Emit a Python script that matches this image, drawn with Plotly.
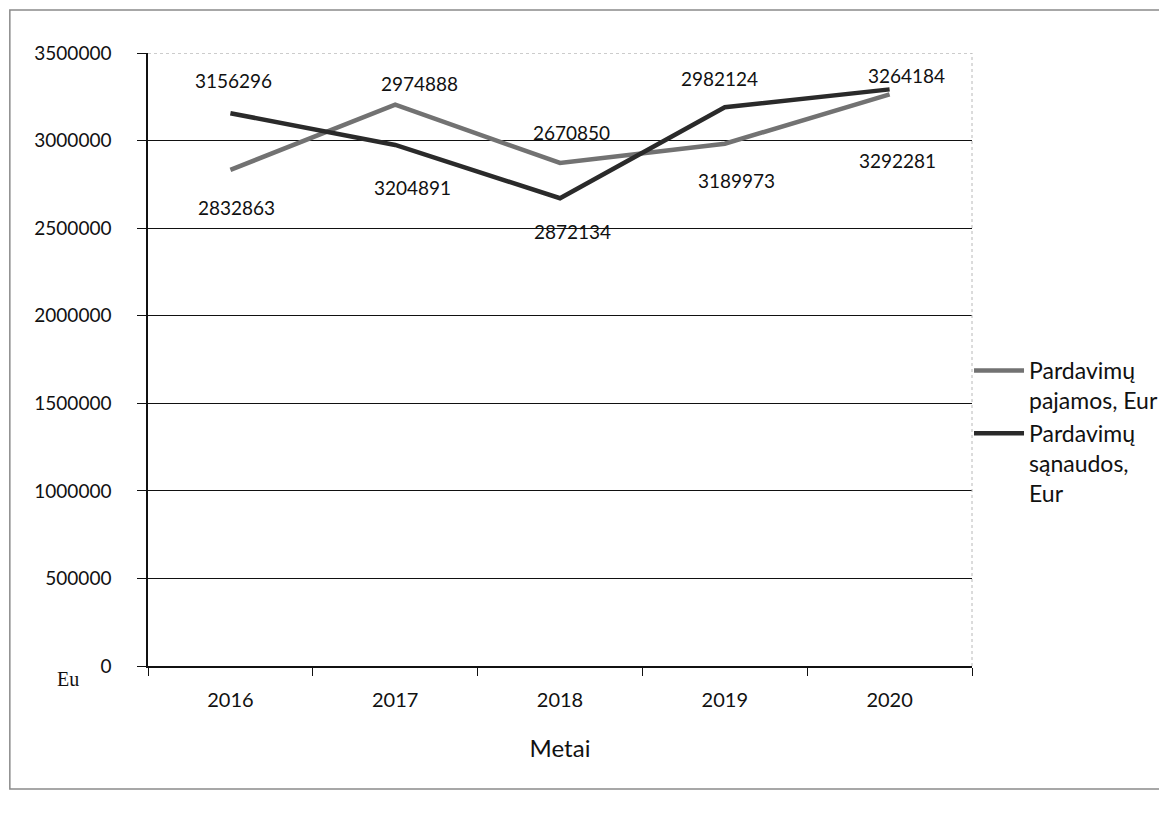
import plotly.graph_objects as go

# ---- data ----
years = ["2016", "2017", "2018", "2019", "2020"]
pajamos = [2832863, 3204891, 2872134, 2982124, 3264184]   # Pardavimų pajamos, Eur
sanaudos = [3156296, 2974888, 2670850, 3189973, 3292281]  # Pardavimų sąnaudos, Eur
labels_upper = [3156296, 2974888, 2670850, 2982124, 3264184]
labels_lower = [2832863, 3204891, 2872134, 3189973, 3292281]
y_ticks = [0, 500000, 1000000, 1500000, 2000000, 2500000, 3000000, 3500000]

# ---- label placement (pixel offsets from the value point) ----
upper_dx = [3, 24, 11, -5, 17]
upper_dy = [33, 61, 66, 65, 19]
lower_dx = [6, 17, 12, 12, 8]
lower_dy = [-38, -83, -69, -73, -71]

FONT = "Lato"
W, H = 1167, 815
OFF = 8  # page body margin
# plot area in screen pixels: left 148, right 977, top 53, bottom 666
ML, MT = 148 - OFF, 53 - OFF
MR = W - (977 - OFF)
MB = H - (666 - OFF)
PW, PH = W - ML - MR, H - MT - MB


def px_x(v):
    return (v - OFF - ML) / PW


def px_y(v):
    return (H - MB - (v - OFF)) / PH


fig = go.Figure()
fig.add_trace(go.Scatter(
    x=years, y=pajamos, mode="lines", name="Pardavimų<br>pajamos, Eur",
    line=dict(color="#727272", width=4.5), cliponaxis=False))
fig.add_trace(go.Scatter(
    x=years, y=sanaudos, mode="lines", name="Pardavimų<br>sąnaudos,<br>Eur",
    line=dict(color="#2a2a2a", width=4.5), cliponaxis=False))

annotations = []
for i, yr in enumerate(years):
    annotations.append(dict(x=i, y=labels_upper[i], xref="x", yref="y",
                            text=str(labels_upper[i]),
                            showarrow=False, xshift=upper_dx[i], yshift=upper_dy[i],
                            font=dict(family=FONT, size=19, color="#111")))
    annotations.append(dict(x=i, y=labels_lower[i], xref="x", yref="y",
                            text=str(labels_lower[i]),
                            showarrow=False, xshift=lower_dx[i], yshift=lower_dy[i],
                            font=dict(family=FONT, size=19, color="#111")))

annotations.append(dict(xref="paper", yref="paper", x=px_x(68), y=px_y(679),
                        xanchor="center", yanchor="middle",
                        text="Eu", showarrow=False,
                        font=dict(family="Liberation Serif", size=20, color="#111")))

shapes = [
    # outer chart border
    dict(type="rect", xref="paper", yref="paper", x0=px_x(9), x1=px_x(1190), y0=px_y(789), y1=px_y(10),
         line=dict(color="#8a8a8a", width=1.5), layer="below"),
    # faint top gridline
    dict(type="line", xref="paper", yref="y", x0=0, x1=1, y0=3500000, y1=3500000,
         line=dict(color="white", width=2)),
    dict(type="line", xref="paper", yref="y", x0=0, x1=1, y0=3500000, y1=3500000,
         line=dict(color="#9a9a9a", width=1, dash="dot")),
    # faint right plot edge
    dict(type="line", xref="paper", yref="y", x0=1, x1=1, y0=0, y1=3500000,
         line=dict(color="#b8b8b8", width=1, dash="dot")),
]

fig.update_layout(
    width=W, height=H, autosize=False,
    margin=dict(l=ML, r=MR, t=MT, b=MB),
    paper_bgcolor="white", plot_bgcolor="white",
    font=dict(family=FONT, size=19, color="#111"),
    showlegend=True,
    legend=dict(x=px_x(974), y=px_y(349), xanchor="left", yanchor="top",
                font=dict(family=FONT, size=23, color="#111"),
                valign="top", itemwidth=50, tracegroupgap=0,
                bgcolor="rgba(0,0,0,0)"),
    annotations=annotations,
    shapes=shapes,
    xaxis=dict(type="category", range=[-0.5, 4.5], showgrid=False,
               showline=True, linecolor="#111", linewidth=1.5,
               ticks="outside", tickson="boundaries", ticklen=8, tickcolor="#111",
               ticklabelstandoff=15, tickfont=dict(size=20),
               title=dict(text="Metai", font=dict(family=FONT, size=24, color="#111"), standoff=30)),
    yaxis=dict(range=[0, 3500000], tickvals=y_ticks, ticktext=[str(v) for v in y_ticks],
               showgrid=True, gridcolor="#111", gridwidth=1,
               showline=True, linecolor="#111", linewidth=1.5,
               ticks="outside", ticklen=9, tickcolor="#111",
               ticklabelstandoff=22, zeroline=False),
)

fig.write_html("out.html")
